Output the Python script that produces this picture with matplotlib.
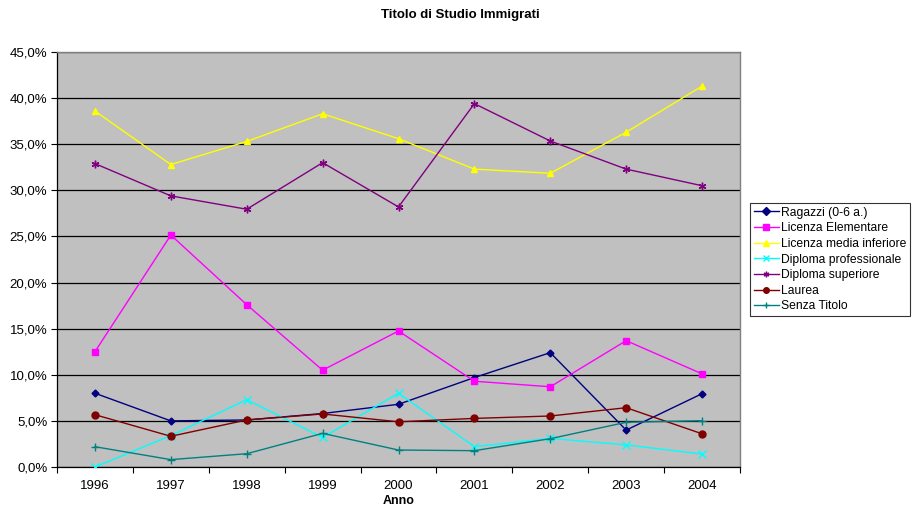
import matplotlib
matplotlib.use("Agg")
import matplotlib.pyplot as plt
from matplotlib.ticker import FuncFormatter, FixedLocator

plt.rcParams['font.family'] = ['Liberation Sans', 'DejaVu Sans']

anni = [1996, 1997, 1998, 1999, 2000, 2001, 2002, 2003, 2004]

ragazzi = [8.0, 5.0, 5.1, 5.8, 6.8, 9.7, 12.4, 4.0, 7.95]
licenza_elementare = [12.5, 25.15, 17.6, 10.5, 14.75, 9.3, 8.7, 13.7, 10.1]
licenza_media = [38.6, 32.8, 35.3, 38.3, 35.6, 32.3, 31.85, 36.3, 41.3]
diploma_prof = [0.0, 3.4, 7.3, 3.2, 8.0, 2.2, 3.1, 2.4, 1.4]
diploma_sup = [32.9, 29.4, 27.95, 33.0, 28.2, 39.4, 35.35, 32.3, 30.5]
laurea = [5.67, 3.33, 5.1, 5.75, 4.9, 5.27, 5.53, 6.43, 3.6]
senza_titolo = [2.2, 0.8, 1.44, 3.65, 1.84, 1.77, 3.07, 4.85, 5.02]

serie = [
    ("Ragazzi (0-6 a.)", ragazzi, "#000080", "D", 3.5),
    ("Licenza Elementare", licenza_elementare, "#FF00FF", "s", 5),
    ("Licenza media inferiore", licenza_media, "#FFFF00", "^", 5),
    ("Diploma professionale", diploma_prof, "#00FFFF", "x", 5.5),
    ("Diploma superiore", diploma_sup, "#800080", (6, 2, 0), 5.5),
    ("Laurea", laurea, "#800000", "o", 5),
    ("Senza Titolo", senza_titolo, "#008080", "+", 6),
]

fig = plt.figure(figsize=(9.15, 5.11), dpi=100)
ax = fig.add_axes([57/915, 1 - 467/511, (740 - 57)/915, (467 - 52)/511])
ax.set_facecolor("#C0C0C0")

x = list(range(len(anni)))
for nome, valori, colore, marker, ms in serie:
    ax.plot(x, valori, color=colore, lw=1.0, marker=marker, markersize=ms,
            markerfacecolor=colore, markeredgecolor=colore, markeredgewidth=1.0,
            label=nome, zorder=3)

ax.set_xlim(-0.5, len(anni) - 0.5)
ax.set_ylim(0, 45)
ax.set_yticks([0, 5, 10, 15, 20, 25, 30, 35, 40, 45])
ax.yaxis.set_major_formatter(FuncFormatter(lambda v, p: f"{v:.1f}%".replace(".", ",")))
ax.set_xticks(x)
ax.set_xticklabels([str(a) for a in anni])
ax.xaxis.set_minor_locator(FixedLocator([i - 0.5 for i in range(len(anni) + 1)]))
ax.tick_params(axis="x", which="major", length=0, labelsize=9.5, pad=9)
ax.tick_params(axis="x", which="minor", length=4, width=0.8, direction="out")
ax.tick_params(axis="y", length=4, width=0.8, direction="out", labelsize=9.5, pad=3)
ax.grid(axis="y", color="black", lw=0.9, zorder=1)
ax.set_axisbelow(True)

for s in ("top", "right"):
    ax.spines[s].set_color("#808080")
    ax.spines[s].set_linewidth(1.0)
for s in ("left", "bottom"):
    ax.spines[s].set_color("black")
    ax.spines[s].set_linewidth(0.9)

fig.text(460/915, 1 - 15/511, "Titolo di Studio Immigrati",
         ha="center", va="center", fontsize=9.5, fontweight="bold")
fig.text(399/915, 1 - 501/511, "Anno", ha="center", va="center",
         fontsize=9, fontweight="bold")

leg = fig.legend(loc="upper left", bbox_to_anchor=(750/915, 1 - 203/511),
                 fontsize=8.7, frameon=True, fancybox=False, edgecolor="black",
                 handlelength=2.1, handletextpad=0.2, labelspacing=0.3,
                 borderpad=0.3, borderaxespad=0)
leg.get_frame().set_linewidth(0.8)
for h in leg.legend_handles:
    h.set_markersize(4)

fig.savefig("out.png", dpi=100)
